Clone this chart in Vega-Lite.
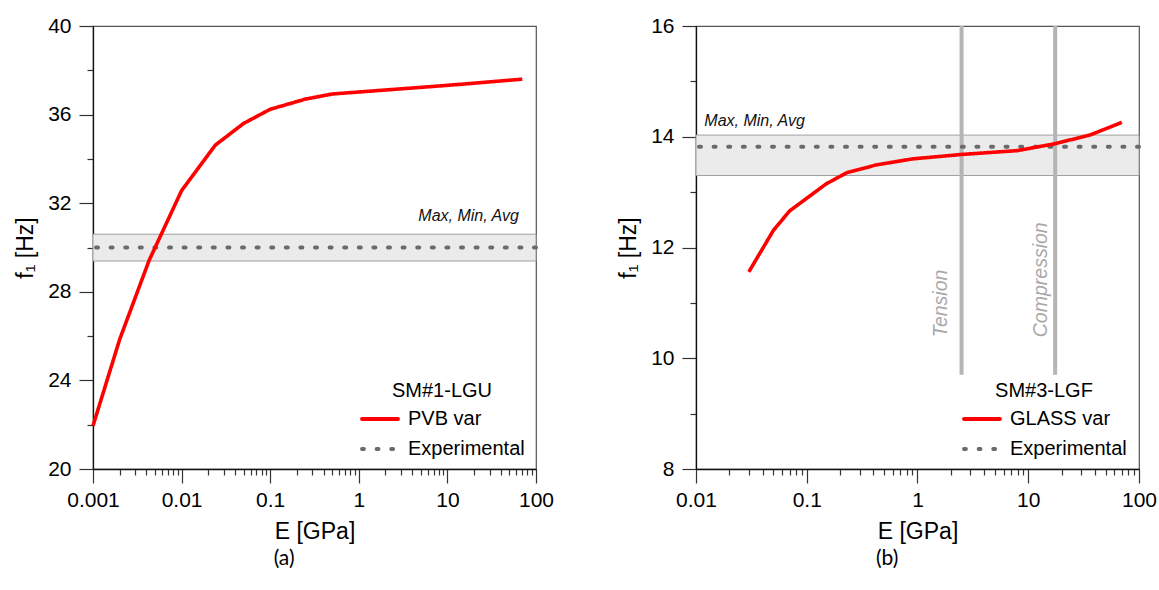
{
  "$schema": "https://vega.github.io/schema/vega-lite/v6.json",
  "padding": {"left": 14, "top": 14, "right": 0, "bottom": 0},
  "spacing": 62,
  "datasets": {
    "curveA": [
      {"series": "PVB var", "E": 0.001, "f": 21.95},
      {"series": "PVB var", "E": 0.002, "f": 25.85},
      {"series": "PVB var", "E": 0.0043, "f": 29.42},
      {"series": "PVB var", "E": 0.01, "f": 32.57},
      {"series": "PVB var", "E": 0.024, "f": 34.62},
      {"series": "PVB var", "E": 0.05, "f": 35.6},
      {"series": "PVB var", "E": 0.1, "f": 36.24},
      {"series": "PVB var", "E": 0.25, "f": 36.7},
      {"series": "PVB var", "E": 0.5, "f": 36.93},
      {"series": "PVB var", "E": 1, "f": 37.02},
      {"series": "PVB var", "E": 10, "f": 37.32},
      {"series": "PVB var", "E": 70, "f": 37.6}
    ],
    "expA": [{"series": "Experimental", "avg": 30.0, "min": 29.39, "max": 30.6}],
    "noteA": [{"E": 64, "f": 31.42, "label": "Max, Min, Avg"}],
    "curveB": [
      {"series": "GLASS var", "E": 0.03, "f": 11.56},
      {"series": "GLASS var", "E": 0.05, "f": 12.31},
      {"series": "GLASS var", "E": 0.07, "f": 12.66},
      {"series": "GLASS var", "E": 0.15, "f": 13.15},
      {"series": "GLASS var", "E": 0.23, "f": 13.35},
      {"series": "GLASS var", "E": 0.42, "f": 13.49},
      {"series": "GLASS var", "E": 0.9, "f": 13.6},
      {"series": "GLASS var", "E": 2.5, "f": 13.68},
      {"series": "GLASS var", "E": 8, "f": 13.75},
      {"series": "GLASS var", "E": 17, "f": 13.87},
      {"series": "GLASS var", "E": 36, "f": 14.03},
      {"series": "GLASS var", "E": 70, "f": 14.26}
    ],
    "expB": [{"series": "Experimental", "avg": 13.82, "min": 13.3, "max": 14.03}],
    "noteB": [{"E": 0.0119, "f": 14.29, "label": "Max, Min, Avg"}],
    "limitsB": [
      {"E": 2.5, "lo": 9.7, "hi": 16, "label": "Tension"},
      {"E": 17.5, "lo": 9.7, "hi": 16, "label": "Compression"}
    ],
    "limitLabelsB": [
      {"E": 1.84, "f": 10.38, "label": "Tension"},
      {"E": 14.7, "f": 10.38, "label": "Compression"}
    ]
  },
  "hconcat": [
    {
      "width": 443,
      "height": 443,
      "title": {"text": "(a)", "orient": "bottom", "anchor": "middle", "frame": "bounds", "font": "Lato", "fontSize": 21, "fontWeight": "normal", "color": "#000", "offset": 5},
      "layer": [
        {
          "data": {"name": "expA"},
          "mark": {"type": "rect", "fill": "#ebebeb", "stroke": "#a0a0a0", "strokeWidth": 1},
          "encoding": {
            "y": {"field": "min", "type": "quantitative", "scale": {"domain": [20, 40], "nice": false}},
            "y2": {"field": "max"}
          }
        },
        {
          "data": {"name": "expA"},
          "mark": {"type": "rule", "strokeWidth": 4, "strokeCap": "round"},
          "encoding": {
            "y": {"field": "avg", "type": "quantitative"},
            "color": {"field": "series", "type": "nominal",
              "scale": {"domain": ["PVB var", "Experimental"], "range": ["#ff0000", "#6a6a6a"]},
              "legend": {"orient": "none", "legendX": 267, "legendY": 355, "title": "SM#1-LGU", "titleFontSize": 20, "titleFontWeight": "normal", "titleColor": "#000", "titleAnchor": "middle", "titleFont": "Liberation Sans", "labelFontSize": 20, "labelColor": "#000", "labelFont": "Liberation Sans", "symbolType": "stroke", "symbolSize": 1300, "symbolStrokeWidth": 3.8, "labelOffset": 8, "rowPadding": -3, "titlePadding": -2, "encode": {"symbols": {"update": {"strokeCap": {"value": "round"}}}}}},
            "strokeDash": {"field": "series", "type": "nominal",
              "scale": {"domain": ["PVB var", "Experimental"], "range": [[1, 0], [2, 12.6]]},
              "legend": {"orient": "none", "legendX": 267, "legendY": 355, "title": "SM#1-LGU", "titleFontSize": 20, "titleFontWeight": "normal", "titleColor": "#000", "titleAnchor": "middle", "titleFont": "Liberation Sans", "labelFontSize": 20, "labelColor": "#000", "labelFont": "Liberation Sans", "symbolType": "stroke", "symbolSize": 1300, "symbolStrokeWidth": 3.8, "labelOffset": 8, "rowPadding": -3, "titlePadding": -2, "encode": {"symbols": {"update": {"strokeCap": {"value": "round"}}}}}}
          }
        },
        {
          "data": {"name": "curveA"},
          "mark": {"type": "line", "strokeWidth": 3.6, "strokeJoin": "round"},
          "encoding": {
            "x": {"field": "E", "type": "quantitative",
              "scale": {"type": "log", "domain": [0.001, 100], "nice": false},
              "axis": {"title": "E [GPa]", "values": [0.001,0.002,0.003,0.004,0.005,0.006,0.007,0.008,0.009,0.01,0.02,0.03,0.04,0.05,0.06,0.07,0.08,0.09,0.1,0.2,0.3,0.4,0.5,0.6,0.7,0.8,0.9,1,2,3,4,5,6,7,8,9,10,20,30,40,50,60,70,80,90,100],
                "format": "~g",
                "labelExpr": "abs(log(datum.value)/LN10 - round(log(datum.value)/LN10)) < 0.001 ? datum.label : ''",
                "tickSize": {"condition": {"test": "abs(log(datum.value)/LN10 - round(log(datum.value)/LN10)) < 0.001", "value": 14}, "value": 6},
                "labelPadding": 6, "titlePadding": 10, "labelOverlap": false, "labelFlush": false, "labelBound": false}},
            "y": {"field": "f", "type": "quantitative",
              "axis": {"title": "f₁ [Hz]", "values": [20,22,24,26,28,30,32,34,36,38,40],
                "format": "d",
                "labelExpr": "datum.value % 4 == 0 ? datum.label : ''",
                "tickSize": {"condition": {"test": "datum.value % 4 == 0", "value": 14}, "value": 6},
                "labelPadding": 8, "titlePadding": 10, "labelOverlap": false, "labelFlush": false}},
            "color": {"field": "series", "type": "nominal"},
            "strokeDash": {"field": "series", "type": "nominal"}
          }
        },
        {
          "data": {"name": "noteA"},
          "mark": {"type": "text", "align": "right", "baseline": "middle", "fontStyle": "italic", "fontSize": 16, "font": "Liberation Sans", "color": "#111"},
          "encoding": {
            "x": {"field": "E", "type": "quantitative"},
            "y": {"field": "f", "type": "quantitative"},
            "text": {"field": "label"}
          }
        }
      ]
    },
    {
      "width": 443,
      "height": 443,
      "title": {"text": "(b)", "orient": "bottom", "anchor": "middle", "frame": "bounds", "font": "Lato", "fontSize": 21, "fontWeight": "normal", "color": "#000", "offset": 5},
      "layer": [
        {
          "data": {"name": "expB"},
          "mark": {"type": "rect", "fill": "#ebebeb", "stroke": "#a0a0a0", "strokeWidth": 1},
          "encoding": {
            "y": {"field": "min", "type": "quantitative", "scale": {"domain": [8, 16], "nice": false}},
            "y2": {"field": "max"}
          }
        },
        {
          "data": {"name": "limitsB"},
          "mark": {"type": "rule", "strokeWidth": 4, "color": "#b5b5b5"},
          "encoding": {
            "x": {"field": "E", "type": "quantitative"},
            "y": {"field": "lo", "type": "quantitative"},
            "y2": {"field": "hi"}
          }
        },
        {
          "data": {"name": "limitLabelsB"},
          "mark": {"type": "text", "angle": 270, "align": "left", "baseline": "alphabetic", "fontStyle": "italic", "fontSize": 19.5, "font": "Liberation Sans", "color": "#a8a8a8"},
          "encoding": {
            "x": {"field": "E", "type": "quantitative"},
            "y": {"field": "f", "type": "quantitative"},
            "text": {"field": "label"}
          }
        },
        {
          "data": {"name": "expB"},
          "mark": {"type": "rule", "strokeWidth": 4, "strokeCap": "round"},
          "encoding": {
            "y": {"field": "avg", "type": "quantitative"},
            "color": {"field": "series", "type": "nominal",
              "scale": {"domain": ["GLASS var", "Experimental"], "range": ["#ff0000", "#6a6a6a"]},
              "legend": {"orient": "none", "legendX": 266, "legendY": 355, "title": "SM#3-LGF", "titleFontSize": 20, "titleFontWeight": "normal", "titleColor": "#000", "titleAnchor": "middle", "titleFont": "Liberation Sans", "labelFontSize": 20, "labelColor": "#000", "labelFont": "Liberation Sans", "symbolType": "stroke", "symbolSize": 1300, "symbolStrokeWidth": 3.8, "labelOffset": 8, "rowPadding": -3, "titlePadding": -2, "encode": {"symbols": {"update": {"strokeCap": {"value": "round"}}}}}},
            "strokeDash": {"field": "series", "type": "nominal",
              "scale": {"domain": ["GLASS var", "Experimental"], "range": [[1, 0], [2, 12.6]]},
              "legend": {"orient": "none", "legendX": 266, "legendY": 355, "title": "SM#3-LGF", "titleFontSize": 20, "titleFontWeight": "normal", "titleColor": "#000", "titleAnchor": "middle", "titleFont": "Liberation Sans", "labelFontSize": 20, "labelColor": "#000", "labelFont": "Liberation Sans", "symbolType": "stroke", "symbolSize": 1300, "symbolStrokeWidth": 3.8, "labelOffset": 8, "rowPadding": -3, "titlePadding": -2, "encode": {"symbols": {"update": {"strokeCap": {"value": "round"}}}}}}
          }
        },
        {
          "data": {"name": "curveB"},
          "mark": {"type": "line", "strokeWidth": 3.6, "strokeJoin": "round"},
          "encoding": {
            "x": {"field": "E", "type": "quantitative",
              "scale": {"type": "log", "domain": [0.01, 100], "nice": false},
              "axis": {"title": "E [GPa]", "values": [0.01,0.02,0.03,0.04,0.05,0.06,0.07,0.08,0.09,0.1,0.2,0.3,0.4,0.5,0.6,0.7,0.8,0.9,1,2,3,4,5,6,7,8,9,10,20,30,40,50,60,70,80,90,100],
                "format": "~g",
                "labelExpr": "abs(log(datum.value)/LN10 - round(log(datum.value)/LN10)) < 0.001 ? datum.label : ''",
                "tickSize": {"condition": {"test": "abs(log(datum.value)/LN10 - round(log(datum.value)/LN10)) < 0.001", "value": 14}, "value": 6},
                "labelPadding": 6, "titlePadding": 10, "labelOverlap": false, "labelFlush": false, "labelBound": false}},
            "y": {"field": "f", "type": "quantitative",
              "axis": {"title": "f₁ [Hz]", "values": [8,9,10,11,12,13,14,15,16],
                "format": "d",
                "labelExpr": "datum.value % 2 == 0 ? datum.label : ''",
                "tickSize": {"condition": {"test": "datum.value % 2 == 0", "value": 14}, "value": 6},
                "labelPadding": 8, "titlePadding": 10, "labelOverlap": false, "labelFlush": false}},
            "color": {"field": "series", "type": "nominal"},
            "strokeDash": {"field": "series", "type": "nominal"}
          }
        },
        {
          "data": {"name": "noteB"},
          "mark": {"type": "text", "align": "left", "baseline": "middle", "fontStyle": "italic", "fontSize": 16, "font": "Liberation Sans", "color": "#111"},
          "encoding": {
            "x": {"field": "E", "type": "quantitative"},
            "y": {"field": "f", "type": "quantitative"},
            "text": {"field": "label"}
          }
        }
      ]
    }
  ],
  "resolve": {
    "scale": {"x": "independent", "y": "independent", "color": "independent", "strokeDash": "independent"},
    "legend": {"color": "independent", "strokeDash": "independent"}
  },
  "config": {
    "font": "Liberation Sans",
    "view": {"stroke": "#555", "strokeWidth": 1.2},
    "axis": {"grid": false, "domainColor": "#111", "domainWidth": 1.3, "tickColor": "#333", "tickWidth": 1.2, "labelFontSize": 21, "labelColor": "#000", "labelFont": "Liberation Sans", "titleFontSize": 23, "titleFontWeight": "normal", "titleColor": "#000", "titleFont": "Liberation Sans"}
  }
}
